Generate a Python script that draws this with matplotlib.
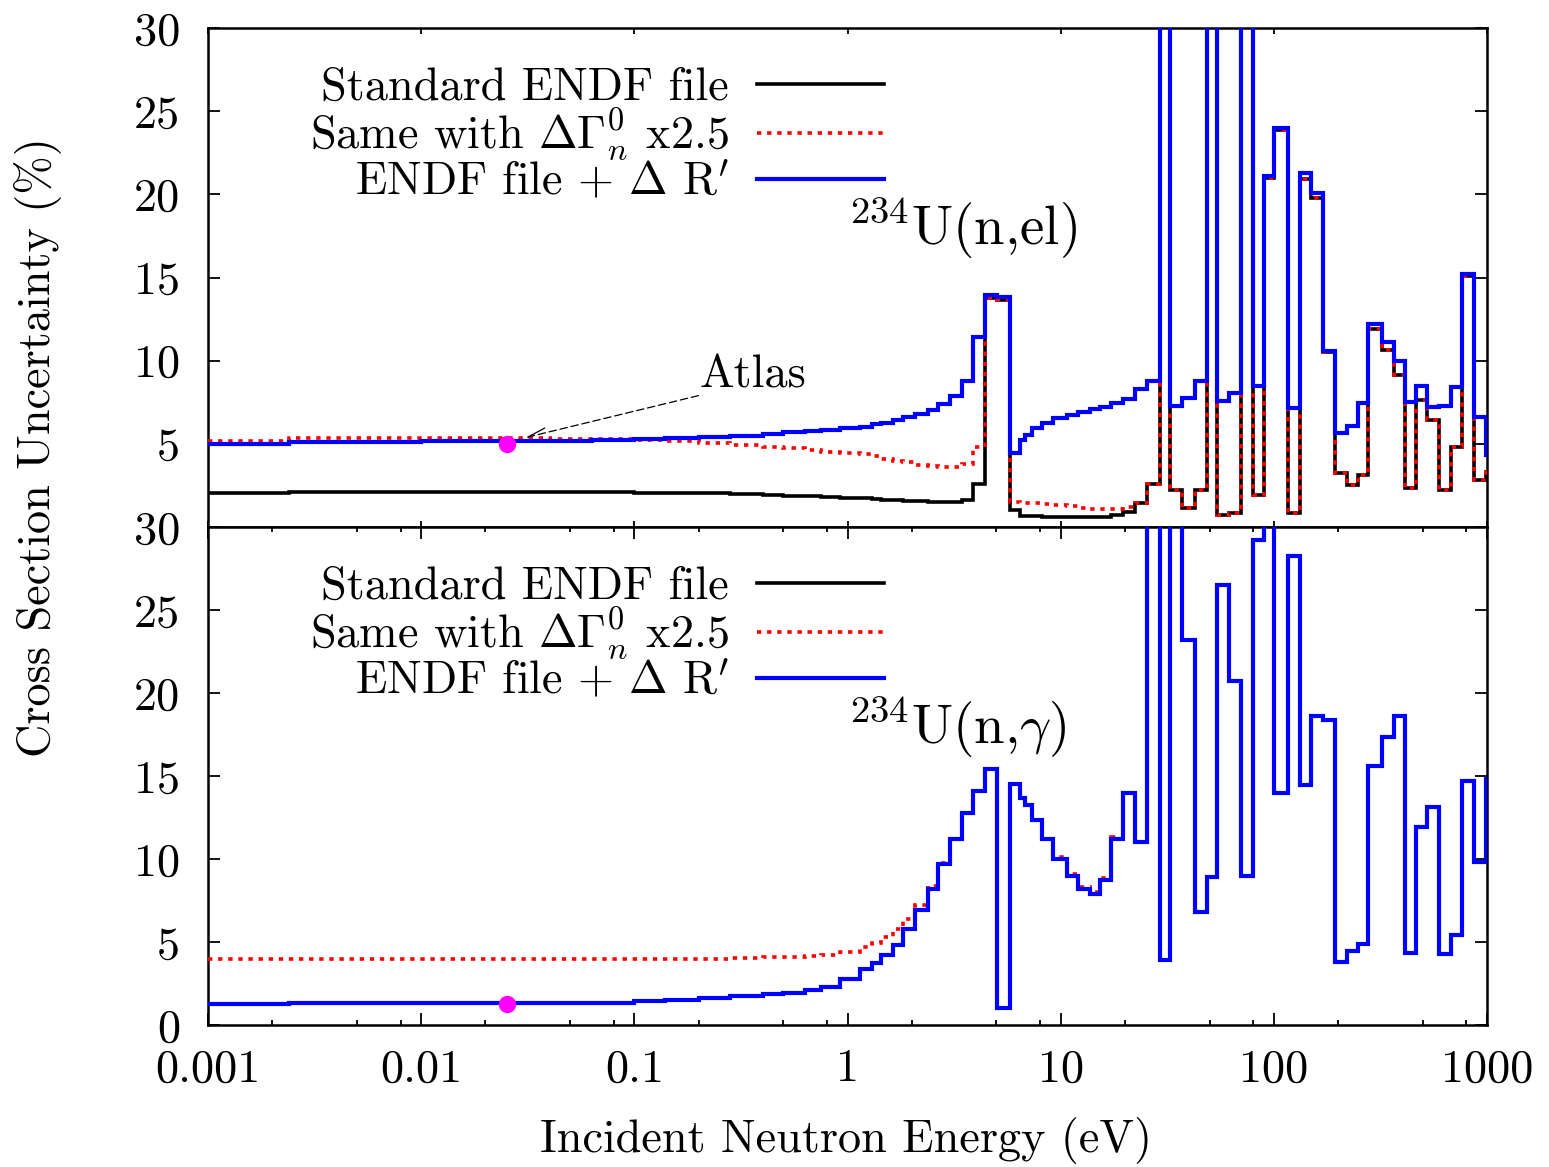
import numpy as np
import matplotlib
matplotlib.use("Agg")
import matplotlib.pyplot as plt
from matplotlib.lines import Line2D
from matplotlib.ticker import FixedLocator, FixedFormatter, NullFormatter, NullLocator

# ---------------- data ----------------
# group boundaries (eV)
edges = [0.001, 0.0024, 0.004, 0.0063, 0.01, 0.016, 0.025, 0.04, 0.063, 0.1,
         0.14, 0.2, 0.28, 0.4, 0.5, 0.63, 0.75, 0.92,
         1.15, 1.30, 1.44, 1.64, 1.83, 2.07, 2.39, 2.67, 3.03, 3.43, 3.89,
         4.42, 5.01, 5.78, 6.44, 6.80, 7.31, 8.15, 9.24, 10.7, 12.1, 13.7, 15.3,
         17.3, 19.7, 22.4, 25.4, 29.1, 32.7, 37.1, 42.6, 48.4, 54.3, 61.7, 70.0,
         79.6, 89.7, 100.7, 116.4, 133.1, 150, 170, 193.5, 219.5, 249.3, 278,
         321, 365, 414, 465, 524, 594, 675, 766, 870, 989, 1000]

# 234U(n,el) uncertainty (%)
el_std = [2.02, 2.09, 2.09, 2.09, 2.09, 2.09, 2.09, 2.09, 2.08,
          2.07, 2.05, 2.02, 1.98, 1.93, 1.88, 1.84, 1.80,
          1.76, 1.72, 1.68, 1.65, 1.62, 1.59, 1.56, 1.53, 1.50, 1.50, 1.65, 2.60,
          13.75, 13.65, 1.02, 0.68, 0.66, 0.64, 0.63, 0.62, 0.62, 0.62, 0.62,
          0.62, 0.72, 0.92, 1.42, 2.57, 45, 2.22, 1.12, 2.22, 45, 0.72, 0.82, 45,
          1.92, 21.0, 23.85, 0.82, 20.9, 19.75, 10.5, 3.23, 2.52, 3.13, 11.9,
          10.65, 9.14, 2.32, 7.64, 6.43, 2.22, 4.83, 15.1, 2.83, 3.33]
el_x25 = [5.19, 5.33, 5.33, 5.33, 5.33, 5.33, 5.33, 5.32, 5.30,
          5.25, 5.15, 5.05, 4.93, 4.82, 4.72, 4.62, 4.53,
          4.45, 4.38, 4.25, 4.10, 3.98, 3.88, 3.75, 3.65, 3.60, 3.58, 3.80, 4.80,
          13.75, 13.65, 1.52, 1.47, 1.45, 1.42, 1.38, 1.30, 1.25, 1.15, 1.10,
          1.06, 1.10, 1.20, 1.45, 2.57, 45, 2.22, 1.12, 2.22, 45, 0.72, 0.82, 45,
          1.92, 21.0, 23.85, 0.82, 20.9, 19.75, 10.5, 3.23, 2.52, 3.13, 11.9,
          10.65, 9.14, 2.32, 7.64, 6.43, 2.22, 4.83, 15.1, 2.83, 3.33]
el_dR = [5.00, 5.12, 5.13, 5.14, 5.15, 5.16, 5.17, 5.19, 5.25,
         5.28, 5.33, 5.40, 5.50, 5.60, 5.70, 5.76, 5.82,
         5.93, 6.03, 6.17, 6.27, 6.43, 6.60, 6.78, 7.04, 7.38, 7.88, 8.80, 11.45,
         13.95, 13.85, 4.47, 5.23, 5.53, 5.93, 6.23, 6.54, 6.73, 6.90, 7.08,
         7.23, 7.45, 7.70, 8.30, 8.75, 45, 7.30, 7.75, 8.80, 45, 7.60, 8.05, 45,
         8.50, 21.1, 24.0, 7.15, 21.3, 20.1, 10.6, 5.65, 6.10, 7.45, 12.2,
         11.15, 10.0, 7.50, 8.50, 7.20, 7.30, 8.40, 15.2, 6.60, 4.30]

# 234U(n,gamma) uncertainty (%)
cap_std = [1.27, 1.30, 1.30, 1.30, 1.30, 1.30, 1.30, 1.30, 1.35,
           1.42, 1.50, 1.60, 1.72, 1.85, 1.95, 2.10, 2.30,
           2.75, 3.35, 3.75, 4.20, 4.80, 5.80, 6.90, 8.20, 9.70, 11.2, 12.8, 14.1,
           15.4, 1.0, 14.5, 13.7, 13.25, 12.35, 11.2, 10.0, 9.0, 8.2, 7.9,
           8.73, 11.2, 14.0, 11.0, 45, 3.92, 45, 23.2, 6.83, 8.93, 26.5, 20.7, 8.98,
           29.2, 45, 14.0, 28.25, 14.45, 18.6, 18.4, 3.81, 4.48, 4.88, 15.6,
           17.37, 18.6, 4.36, 11.95, 13.15, 4.28, 5.42, 14.7, 9.84, 14.8]
cap_x25 = [3.98, 4.00, 4.00, 4.00, 4.00, 4.00, 4.00, 4.00, 4.00,
           4.00, 4.00, 4.00, 4.03, 4.07, 4.12, 4.14, 4.22,
           4.40, 4.70, 4.95, 5.30, 5.80, 6.40, 7.20, 8.35, 9.75, 11.2, 12.8, 14.1,
           15.4, 1.0, 14.5, 13.7, 13.25, 12.35, 11.2, 10.1, 9.1, 8.3, 8.0,
           8.83, 11.3, 14.0, 11.0, 45, 3.92, 45, 23.2, 6.83, 8.93, 26.5, 20.7, 8.98,
           29.2, 45, 14.0, 28.25, 14.45, 18.6, 18.4, 3.81, 4.48, 4.88, 15.6,
           17.37, 18.6, 4.36, 11.95, 13.15, 4.28, 5.42, 14.7, 9.84, 14.8]
cap_dR = [1.27, 1.30, 1.30, 1.30, 1.30, 1.30, 1.30, 1.30, 1.35,
          1.42, 1.50, 1.60, 1.72, 1.85, 1.95, 2.10, 2.30,
          2.75, 3.35, 3.75, 4.20, 4.80, 5.80, 6.90, 8.20, 9.70, 11.2, 12.8, 14.1,
          15.4, 1.0, 14.5, 13.7, 13.25, 12.35, 11.2, 10.0, 9.0, 8.2, 7.9,
          8.73, 11.2, 14.0, 11.0, 45, 3.92, 45, 23.2, 6.83, 8.93, 26.5, 20.7, 8.98,
          29.2, 45, 14.0, 28.25, 14.45, 18.6, 18.4, 3.81, 4.48, 4.88, 15.6,
          17.37, 18.6, 4.36, 11.95, 13.15, 4.28, 5.42, 14.7, 9.84, 14.8]

# Atlas point at thermal energy
atlas_E = 0.0253
atlas_el = 5.0
atlas_cap = 1.27

series_labels = ["Standard ENDF file",
                 r"Same with $\Delta\Gamma_n^0$ x2.5",
                 r"ENDF file + $\Delta$ R$'$"]
xtick_vals = [0.001, 0.01, 0.1, 1, 10, 100, 1000]
xtick_labels = ["0.001", "0.01", "0.1", "1", "10", "100", "1000"]
xminor_vals = [m * 10.0 ** k for k in range(-3, 3) for m in (2, 5, 8)]
ytick_vals = [0, 5, 10, 15, 20, 25, 30]
ytick_labels_top = ["", "5", "10", "15", "20", "25", "30"]
ytick_labels_bot = ["0", "5", "10", "15", "20", "25", "30"]

# ---------------- style ----------------
plt.rcParams["font.family"] = ["cmr10", "DejaVu Serif"]
plt.rcParams["mathtext.fontset"] = "cm"
plt.rcParams["axes.formatter.use_mathtext"] = True
plt.rcParams["axes.unicode_minus"] = False

FS = 33.3
BLACK = "#000000"
RED = "#ff0000"
BLUE = "#0000ff"
DOT = (0, (1.2, 1.6))
LW_K, LW_R, LW_B = 2.6, 2.6, 3.0

fig = plt.figure(figsize=(15.49, 11.67), dpi=100)
ax1 = fig.add_axes([208 / 1549, 1 - 527 / 1167, 1279 / 1549, 499 / 1167])
ax2 = fig.add_axes([208 / 1549, 1 - 1025 / 1167, 1279 / 1549, 498 / 1167])


def draw(ax, std, x25, dR):
    ax.stairs(std, edges, baseline=None, color=BLACK, lw=LW_K, zorder=2)
    ax.stairs(x25, edges, baseline=None, color=RED, lw=LW_R, linestyle=DOT,
              zorder=3)
    ax.stairs(dR, edges, baseline=None, color=BLUE, lw=LW_B, zorder=4)


draw(ax1, el_std, el_x25, el_dR)
draw(ax2, cap_std, cap_x25, cap_dR)

ax1.plot([atlas_E], [atlas_el], "o", color="#ff00ff", ms=12.5, mec="none", zorder=6)
ax2.plot([atlas_E], [atlas_cap], "o", color="#ff00ff", ms=12.5, mec="none", zorder=6)

for ax, ylabs in ((ax1, ytick_labels_top), (ax2, ytick_labels_bot)):
    ax.set_xscale("log")
    ax.set_xlim(0.001, 1000)
    ax.set_ylim(0, 30)
    ax.yaxis.set_major_locator(FixedLocator(ytick_vals))
    ax.yaxis.set_major_formatter(FixedFormatter(ylabs))
    ax.yaxis.set_minor_locator(NullLocator())
    ax.xaxis.set_major_locator(FixedLocator(xtick_vals))
    for s in ax.spines.values():
        s.set_linewidth(1.8)
    ax.tick_params(axis="y", which="major", direction="in", left=True, right=True,
                   length=8.6, width=1.3, labelsize=FS, pad=20)

ax1.xaxis.set_major_formatter(NullFormatter())
ax1.xaxis.set_minor_locator(NullLocator())
ax1.tick_params(axis="x", which="major", direction="in", top=True, bottom=True,
                length=4.5, width=1.3)

ax2.xaxis.set_major_formatter(FixedFormatter(xtick_labels))
ax2.xaxis.set_minor_locator(FixedLocator(xminor_vals))
ax2.xaxis.set_minor_formatter(NullFormatter())
ax2.tick_params(axis="x", which="major", direction="in", top=True, bottom=True,
                length=8.6, width=1.3, labelsize=FS, pad=17)
ax2.tick_params(axis="x", which="minor", direction="in", top=True, bottom=True,
                length=3.6, width=1.3)

# legends
handles = [Line2D([], [], color=BLACK, lw=LW_K),
           Line2D([], [], color=RED, lw=LW_R, linestyle=DOT),
           Line2D([], [], color=BLUE, lw=LW_B)]
for ax in (ax1, ax2):
    ax.legend(handles, series_labels, loc="upper right",
              bbox_to_anchor=(0.5285, 0.921), frameon=False, fontsize=FS,
              markerfirst=False, handlelength=2.75, handletextpad=0.6,
              labelspacing=-0.045, borderpad=0, borderaxespad=0)

ax1.text(0.5004, 0.599, r"$^{234}$U(n,el)", transform=ax1.transAxes,
         fontsize=39.5, ha="left", va="center")
ax2.text(0.5004, 0.598, r"$^{234}$U(n,$\gamma$)", transform=ax2.transAxes,
         fontsize=39.5, ha="left", va="center")

# Atlas annotation
atlas_text_E, atlas_text_y = 0.203, 9.1
arrow_tail_E, arrow_tail_y = 0.2, 7.9
arrow_head_E, arrow_head_y = 0.0317, 5.41
ax1.text(atlas_text_E, atlas_text_y, "Atlas", fontsize=FS, ha="left", va="center")
ax1.annotate("", xy=(arrow_head_E, arrow_head_y),
             xytext=(arrow_tail_E, arrow_tail_y),
             arrowprops=dict(arrowstyle="-", linestyle=(0, (6, 3)), lw=0.9,
                             color=BLACK, shrinkA=0, shrinkB=0))
ax1.annotate("", xy=(arrow_head_E, arrow_head_y), xytext=(0.038, 5.95),
             arrowprops=dict(arrowstyle="-", lw=0.9, color=BLACK,
                             shrinkA=0, shrinkB=0))

fig.text(38 / 1549, 1 - 447 / 1167, "Cross Section Uncertainty (%)",
         rotation=90, ha="center", va="center", fontsize=FS)
fig.text(846 / 1549, 1 - 1140 / 1167, "Incident Neutron Energy (eV)",
         ha="center", va="center", fontsize=FS)

fig.savefig("out.png", dpi=100)
